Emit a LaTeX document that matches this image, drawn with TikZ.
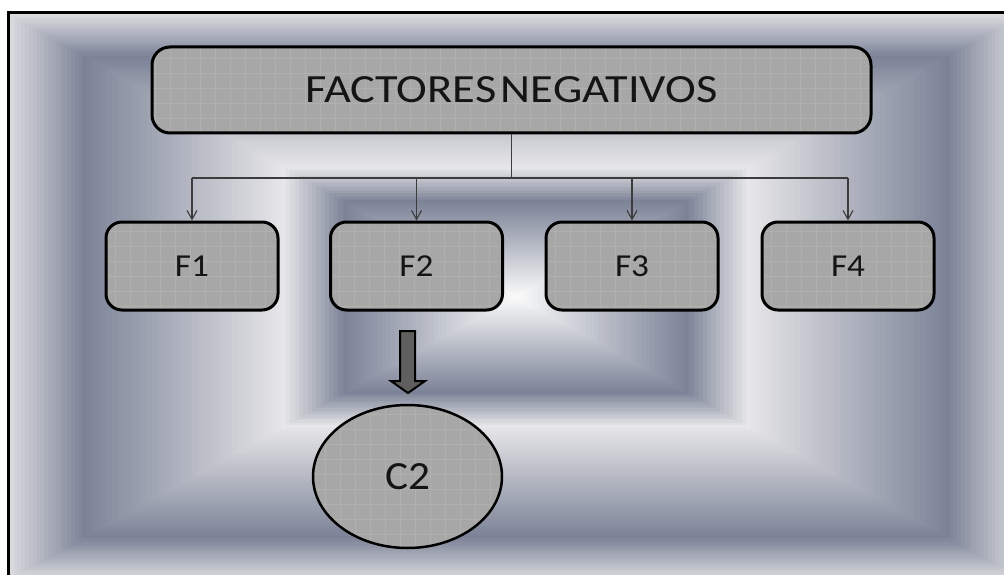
\documentclass[tikz,border=0pt]{standalone}
\usepackage{fontspec}
\setmainfont{Carlito}
\usepackage{graphicx}
\usetikzlibrary{arrows.meta,shapes.geometric}
\definecolor{edgec}{RGB}{220,221,225}
\definecolor{darkc}{RGB}{124,131,151}
\definecolor{bandc}{RGB}{231,231,233}
\definecolor{centc}{RGB}{252,252,252}
\definecolor{boxfill}{RGB}{167,167,167}
\definecolor{gridc}{RGB}{176,176,173}
\definecolor{linec}{RGB}{60,60,60}
\definecolor{arrowfill}{RGB}{95,95,95}
\definecolor{textc}{RGB}{20,20,20}
\begin{document}
\begin{tikzpicture}[x=1pt,y=-1pt,
  gridfill/.style={fill=boxfill, text=textc, path picture={\draw[gridc,line width=0.5pt,step=15pt] (path picture bounding box.south west) grid (path picture bounding box.north east);}},
  titlebox/.style={gridfill, draw=black, line width=3pt, rounded corners=18pt, minimum width=719pt, minimum height=86pt, inner sep=0pt, font=\fontsize{40}{46}\selectfont},
  fbox/.style={gridfill, draw=black, line width=3pt, rounded corners=16pt, minimum width=172pt, minimum height=88pt, inner sep=0pt, font=\fontsize{32}{38}\selectfont},
  cbox/.style={gridfill, ellipse, draw=black, line width=2.5pt, minimum width=189pt, minimum height=143pt, inner sep=0pt, font=\fontsize{40}{46}\selectfont},
  conn/.style={draw=linec, line width=1.1pt},
  connarrow/.style={conn, -{Straight Barb[length=9pt,width=10pt]}},
  blockarrow/.style={draw=black, line width=2pt, fill=arrowfill, line join=miter}
]
\useasboundingbox (0,0) rectangle (1004,575);
\fill[white] (0,0) rectangle (1004,575);
% rectangular background gradient
\begin{scope}
\clip (10,14.5) rectangle (1004,575);
\foreach \ra/\rb/\ca/\cb/\n in {1/0.85/edgec/darkc/20, 0.85/0.46/darkc/bandc/40, 0.46/0.34/bandc/darkc/14, 0.34/0.0/darkc/centc/40}{
  \foreach \i in {0,...,\n}{
    \pgfmathsetmacro\rr{\ra-(\ra-\rb)*\i/\n}
    \pgfmathsetmacro\pp{100*\i/\n}
    \fill[fill=\cb!\pp!\ca] ({516-\rr*510},{297-\rr*284}) rectangle ({516+\rr*510},{297+\rr*284});
  }
}
\end{scope}
% frame
\draw[line width=3pt] (8.5,575) -- (8.5,13) -- (1004,13);
% nodes
\node[titlebox] (title) at (511.5,90) {\scalebox{1.16}[1]{FACTORES\hspace{0.1em}NEGATIVOS}};
\node[fbox] (f1) at (192,266) {\scalebox{1.1}[1]{F1}};
\node[fbox] (f2) at (416.5,266) {\scalebox{1.1}[1]{F2}};
\node[fbox] (f3) at (632,266) {\scalebox{1.1}[1]{F3}};
\node[fbox] (f4) at (848,266) {\scalebox{1.1}[1]{F4}};
\node[cbox] (c2) at (407.5,476.5) {\scalebox{1.08}[1]{C2}};
% connectors
\coordinate (j) at (511.5,178);
\draw[conn] (title.south) -- (j);
\draw[conn] (f1.north |- j) -- (f4.north |- j);
\foreach \f in {f1,f2,f3,f4}{
  \draw[connarrow] (\f.north |- j) -- (\f.north);
}
% block arrow from F2 to C2
\draw[blockarrow] (400,331) -- (415,331) -- (415,381) -- (425,381) -- (408,393) -- (391,381) -- (400,381) -- cycle;
\end{tikzpicture}
\end{document}
